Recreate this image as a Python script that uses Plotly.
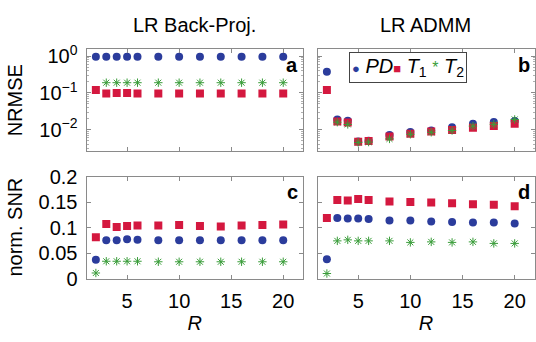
import plotly.graph_objects as go
from plotly.subplots import make_subplots

R = [2, 3, 4, 5, 6, 8, 10, 12, 14, 16, 18, 20]

# NRMSE, LR Back-Proj.
a_PD = [0.96, 0.96, 0.96, 0.96, 0.96, 0.96, 0.96, 0.96, 0.96, 0.96, 0.96, 0.96]
a_T1 = [0.12, 0.097, 0.10, 0.10, 0.097, 0.097, 0.097, 0.097, 0.097, 0.097, 0.097, 0.097]
a_T2 = [None, 0.19, 0.19, 0.19, 0.19, 0.19, 0.19, 0.19, 0.19, 0.19, 0.19, 0.19]

# NRMSE, LR ADMM
b_PD = [0.376, 0.019, 0.0175, 0.0048, 0.005, 0.0072, 0.0087, 0.0095, 0.0117, 0.0144, 0.0163, 0.0172]
b_T1 = [0.121, 0.0166, 0.0156, 0.0047, 0.0049, 0.0065, 0.0078, 0.0089, 0.0098, 0.0112, 0.0126, 0.0144]
b_T2 = [None, 0.016, 0.0139, 0.0045, 0.0046, 0.0056, 0.0075, 0.0085, 0.0095, 0.0125, 0.014, 0.019]

# norm. SNR, LR Back-Proj.
c_PD = [0.037, 0.075, 0.075, 0.077, 0.076, 0.075, 0.075, 0.075, 0.075, 0.075, 0.075, 0.075]
c_T1 = [0.081, 0.107, 0.101, 0.103, 0.104, 0.104, 0.105, 0.103, 0.102, 0.104, 0.105, 0.106]
c_T2 = [0.011, 0.034, 0.034, 0.034, 0.034, 0.033, 0.033, 0.033, 0.033, 0.033, 0.033, 0.033]

# norm. SNR, LR ADMM
d_PD = [0.038, 0.119, 0.118, 0.118, 0.117, 0.114, 0.114, 0.112, 0.111, 0.110, 0.110, 0.108]
d_T1 = [0.119, 0.154, 0.153, 0.156, 0.154, 0.151, 0.150, 0.149, 0.148, 0.146, 0.145, 0.142]
d_T2 = [0.010, 0.074, 0.076, 0.074, 0.074, 0.074, 0.071, 0.072, 0.071, 0.072, 0.069, 0.069]

col_titles = ["LR Back-Proj.", "LR ADMM"]
row_titles = ["NRMSE", "norm. SNR"]
panel_labels = ["a", "b", "c", "d"]
log_tickvals = [1, 0.1, 0.01]
log_ticktext = ["10<sup>0</sup>", "10<sup>−1</sup>", "10<sup>−2</sup>"]
lin_tickvals = [0, 0.05, 0.1, 0.15, 0.2]
lin_ticktext = ["0", "0.05", "0.1", "0.15", "0.2"]
x_tickvals = [5, 10, 15, 20]

BLUE = "#2b3c9c"
RED = "#d4183f"
GREEN = "#3a9d3a"
AX = "#8a8a8a"
FONT = "Liberation Sans, Arial, sans-serif"

fig = make_subplots(rows=2, cols=2)

panels = [(1, 1, a_PD, a_T1, a_T2), (1, 2, b_PD, b_T1, b_T2),
          (2, 1, c_PD, c_T1, c_T2), (2, 2, d_PD, d_T1, d_T2)]
for r, c, pd_, t1, t2 in panels:
    fig.add_trace(go.Scatter(x=R, y=pd_, mode="markers", name="PD", showlegend=False,
                             marker=dict(symbol="circle", size=8, color=BLUE)), row=r, col=c)
    fig.add_trace(go.Scatter(x=R, y=t1, mode="markers", name="T1", showlegend=False,
                             marker=dict(symbol="square", size=8, color=RED)), row=r, col=c)
    fig.add_trace(go.Scatter(x=R, y=t2, mode="markers", name="T2", showlegend=False,
                             marker=dict(symbol="asterisk-open", size=7, color=GREEN,
                                         line=dict(color=GREEN, width=1))), row=r, col=c)

W, H = 536, 342
xdom = [[86.5 / W, 303 / W], [317.5 / W, 534.5 / W]]
ydom = [[1 - 150 / H, 1 - 41 / H], [1 - 286 / H, 1 - 177 / H]]

common = dict(showline=True, linecolor=AX, linewidth=1, mirror="ticks", ticks="inside",
              ticklen=4, tickcolor=AX, showgrid=False, zeroline=False,
              tickfont=dict(family=FONT, size=20, color="black"))

minor_vals = [m * 10 ** e for e in range(-3, 1) for m in range(2, 10)]

for r in (1, 2):
    for c in (1, 2):
        fig.update_xaxes(domain=xdom[c - 1], range=[1.1, 21.9], tickvals=x_tickvals,
                         showticklabels=(r == 2), ticklabelstandoff=4, **common, row=r, col=c)
        if r == 1:
            fig.update_yaxes(domain=ydom[0], type="log", range=[-2.59, 0.186],
                             tickvals=log_tickvals, ticktext=log_ticktext,
                             showticklabels=(c == 1), ticklabelstandoff=4,
                             minor=dict(ticks="inside", ticklen=2, tickcolor="#b0b0b0",
                                        tickvals=minor_vals, showgrid=False),
                             **common, row=r, col=c)
        else:
            fig.update_yaxes(domain=ydom[1], range=[0, 0.2], tickvals=lin_tickvals,
                             ticktext=lin_ticktext, showticklabels=(c == 1),
                             ticklabelstandoff=4, **common, row=r, col=c)

fig.update_xaxes(title=dict(text="<i>R</i>", font=dict(family=FONT, size=20, color="black"),
                            standoff=5), row=2, col=1)
fig.update_xaxes(title=dict(text="<i>R</i>", font=dict(family=FONT, size=20, color="black"),
                            standoff=5), row=2, col=2)

ann = []
for i, t in enumerate(col_titles):
    ann.append(dict(text=t, x=(xdom[i][0] + xdom[i][1]) / 2, y=1 - 15 / H, xref="paper",
                    yref="paper", showarrow=False, xanchor="center", yanchor="middle",
                    font=dict(family=FONT, size=20, color="black")))
for i, t in enumerate(row_titles):
    ann.append(dict(text=t, x=15 / W, y=(ydom[i][0] + ydom[i][1]) / 2, xref="paper",
                    yref="paper", showarrow=False, xanchor="center", yanchor="middle",
                    textangle=-90, font=dict(family=FONT, size=20, color="black")))
for i, t in enumerate(panel_labels):
    r, c = divmod(i, 2)
    ann.append(dict(text="<b>" + t + "</b>", x=xdom[c][1] - 3 / W, y=ydom[r][1] - 3 / H,
                    xref="paper", yref="paper", showarrow=False, xanchor="right",
                    yanchor="top", font=dict(family=FONT, size=20, color="black")))

legend_text = ("<span style='color:%s;font-size:13px'>●</span> <i>PD</i>"
               "<span style='color:%s;font-size:13px'>■</span> <i>T</i><sub>1</sub> "
               "<span style='color:%s;font-size:16px'>*</span> <i>T</i><sub>2</sub>") % (BLUE, RED, GREEN)
ann.append(dict(text=legend_text, x=408 / W, y=1 - 60.5 / H, xref="paper", yref="paper",
                showarrow=False, xanchor="center", yanchor="middle", bgcolor="white",
                bordercolor="#444444", borderwidth=1, borderpad=2,
                font=dict(family=FONT, size=20, color="black")))

fig.update_layout(width=W, height=H, margin=dict(l=0, r=0, t=0, b=0),
                  paper_bgcolor="white", plot_bgcolor="white", showlegend=False,
                  annotations=ann, font=dict(family=FONT, size=20, color="black"))

fig.write_html("out.html", config={"displayModeBar": False},
               post_script="document.body.style.margin='0';document.body.style.padding='0';")
